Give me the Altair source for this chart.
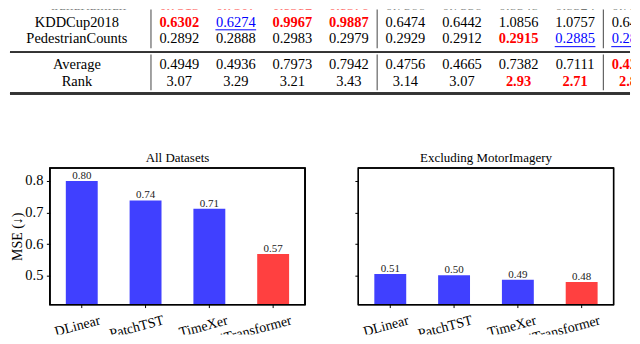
import altair as alt
import pandas as pd

FONT = "Liberation Serif"

# ---------------- table data (cropped page region) ----------------
row_names = ["AustraliaRainfall", "KDDCup2018", "PedestrianCounts", "Average", "Rank"]
australia = [0.7513, 0.7507, 0.8382, 0.8376, 0.7566, 0.7556, 0.8548, 0.8524, 0.7553]
kdd = [0.6302, 0.6274, 0.9967, 0.9887, 0.6474, 0.6442, 1.0856, 1.0757, 0.6448]
pedestrian = [0.2892, 0.2888, 0.2983, 0.2979, 0.2929, 0.2912, 0.2915, 0.2885, 0.2883]
average = [0.4949, 0.4936, 0.7973, 0.7942, 0.4756, 0.4665, 0.7382, 0.7111, 0.4247]
rank = [3.07, 3.29, 3.21, 3.43, 3.14, 3.07, 2.93, 2.71, 2.86]
# highlight per cell: "best" (red bold), "second" (blue underlined), "" plain
australia_hl = ["best", "best", "best", "best", "", "", "", "", ""]
kdd_hl = ["best", "second", "best", "best", "", "", "", "", ""]
pedestrian_hl = ["", "", "", "", "", "", "best", "second", "second"]
average_hl = ["", "", "", "", "", "", "", "", "best"]
rank_hl = ["", "", "", "", "", "", "best", "best", "best"]

# ---------------- bar chart data ----------------
models = ["DLinear", "PatchTST", "TimeXer", "iTransformer"]
mse_all = [0.799, 0.738, 0.712, 0.569]
mse_excl = [0.506, 0.502, 0.488, 0.481]
model_kind = ["baseline", "baseline", "baseline", "ours"]

# ---------------- table ----------------
rows_vals = [australia, kdd, pedestrian, average, rank]
rows_hl = [australia_hl, kdd_hl, pedestrian_hl, average_hl, rank_hl]
row_slot = [0, 1, 2, 3.5, 4.5]  # layout slots (gap before the summary block)
recs = []
for i, (vals, hls) in enumerate(zip(rows_vals, rows_hl)):
    fmt = "{:.2f}" if row_names[i] == "Rank" else "{:.4f}"
    for j, (v, h) in enumerate(zip(vals, hls)):
        recs.append({"row": row_names[i], "r": row_slot[i], "col": j,
                     "txt": fmt.format(v), "hl": h})
cells = pd.DataFrame(recs)
labels_df = pd.DataFrame({"row": row_names, "r": row_slot})

# the table view starts where the bar plots start (vconcat aligns origins);
# the row-label column hangs out to the left of it like an axis.
LEFT_EXT = 41
W_T, H_T = 583, 100
xs = alt.Scale(domain=[-2.288, 7.989], nice=False, zero=False)
ys = alt.Scale(domain=[0.225, 6.142], nice=False, zero=False, reverse=True)
TFS = 14.5


def cell_text(flt, **kw):
    return (alt.Chart(cells).transform_filter(flt)
            .mark_text(font=FONT, fontSize=TFS, baseline="middle", clip=True, **kw)
            .encode(x=alt.X("col:Q", scale=xs, axis=None),
                    y=alt.Y("r:Q", scale=ys, axis=None),
                    text="txt:N"))


plain = cell_text("datum.hl == ''", color="black")
best = cell_text("datum.hl == 'best'", color="#ff0000", fontWeight="bold")
second = cell_text("datum.hl == 'second'", color="#0000ff")
underline = (alt.Chart(cells).transform_filter("datum.hl == 'second'")
             .transform_calculate(xa="datum.col - 0.36", xb="datum.col + 0.36",
                                  yu="datum.r + 0.43")
             .mark_rule(color="#0000ff", strokeWidth=1, clip=True)
             .encode(x=alt.X("xa:Q", scale=xs, axis=None), x2="xb:Q",
                     y=alt.Y("yu:Q", scale=ys, axis=None)))


def label_text(flt, clip):
    return (alt.Chart(labels_df).transform_filter(flt)
            .mark_text(font=FONT, fontSize=TFS, baseline="middle", color="black",
                       clip=clip)
            .encode(x=alt.X(datum=-1.81, scale=xs, axis=None),
                    y=alt.Y("r:Q", scale=ys, axis=None), text="row:N"))


labels_cut = label_text("datum.r < 0.5", True)     # the row cropped at the top
labels_full = label_text("datum.r >= 0.5", False)

vlines = pd.DataFrame({"xv": [-0.5, 3.5, 7.5] * 2,
                       "y1": [-1.0] * 3 + [2.89] * 3,
                       "y2": [2.53] * 3 + [5.02] * 3})
vrules = (alt.Chart(vlines).mark_rule(color="#555555", strokeWidth=1.1, clip=True)
          .encode(x=alt.X("xv:Q", scale=xs, axis=None),
                  y=alt.Y("y1:Q", scale=ys, axis=None), y2="y2:Q"))
mid_rule = (alt.Chart(labels_df).mark_rule(color="#333333", strokeWidth=1.6)
            .encode(x=alt.value(-LEFT_EXT + 1), x2=alt.value(W_T - 1),
                    y=alt.Y(datum=2.76, scale=ys, axis=None)))
bottom_rule = (alt.Chart(labels_df).mark_rule(color="#333333", strokeWidth=2.0)
               .encode(x=alt.value(-LEFT_EXT + 1), x2=alt.value(W_T - 1),
                       y=alt.Y(datum=5.21, scale=ys, axis=None)))

table = alt.layer(vrules, mid_rule, bottom_rule, underline, plain, best, second,
                  labels_cut, labels_full).properties(
    width=W_T, height=H_T, view=alt.ViewBackground(stroke="transparent"))

# ---------------- bar panels ----------------
# plot frame spans Y_LO..Y_HI (137 px); the view extends below it to hold the
# rotated category labels, which are clipped at the view edge like the crop.
Y_LO, Y_HI = 0.41, 0.84
PANEL_W, FRAME_H, VIEW_H = 256, 137, 167
UPP = (Y_HI - Y_LO) / FRAME_H            # data units per pixel
Y_BOTTOM = Y_HI - VIEW_H * UPP
TICK_END = Y_LO - 3.5 * UPP
LABEL_Y = Y_LO - (3.5 + 5.5 + 4.4) * UPP
yscale = alt.Scale(domain=[Y_BOTTOM, Y_HI], nice=False, zero=False)
xscale = alt.Scale(domain=models, paddingInner=0.5, paddingOuter=0.25)


def bar_panel(values, title, first):
    df = pd.DataFrame({"model": models, "mse": values, "kind": model_kind})
    yaxis = alt.Axis(values=[0.5, 0.6, 0.7, 0.8], format=".1f", grid=False,
                     labels=first, title="MSE (↓)" if first else None,
                     labelFont=FONT, labelFontSize=14.5, labelColor="black",
                     labelPadding=3.5, titleFont=FONT, titleFontSize=14,
                     titleFontWeight="normal", titleColor="black", titlePadding=0.5,
                     titleY=68.5,
                     tickSize=3.5, tickColor="black", tickWidth=1, domain=False)
    xenc = alt.X("model:N", sort=models, scale=xscale, axis=None)
    base = alt.Chart(df)
    bars = base.mark_bar(clip=True).encode(
        x=xenc,
        y=alt.Y("mse:Q", scale=yscale, axis=yaxis),
        y2=alt.Y2(datum=Y_LO),
        color=alt.Color("kind:N", scale=alt.Scale(domain=["baseline", "ours"],
                                                  range=["#4040ff", "#ff4040"]),
                        legend=None))
    vals = base.mark_text(baseline="bottom", font=FONT, fontSize=11,
                          color="#222222").encode(
        x=xenc, y=alt.Y("mse:Q"), text=alt.Text("mse:Q", format=".2f"))
    frame = base.mark_rect(filled=False, stroke="black", strokeWidth=1.2).encode(
        x=alt.value(0), x2=alt.value(PANEL_W),
        y=alt.Y(datum=Y_HI), y2=alt.Y2(datum=Y_LO))
    ticks = base.mark_rule(color="black", strokeWidth=1).encode(
        x=xenc, y=alt.Y(datum=Y_LO), y2=alt.Y2(datum=TICK_END))
    cats = base.mark_text(angle=345, align="right", baseline="top", dx=17,
                          font=FONT, fontSize=14, color="black", clip=True).encode(
        x=xenc, y=alt.Y(datum=LABEL_Y), text="model:N")
    return alt.layer(bars, vals, frame, ticks, cats).properties(
        width=PANEL_W, height=VIEW_H,
        view=alt.ViewBackground(stroke="transparent"),
        title=alt.TitleParams(title, font=FONT, fontSize=13, fontWeight="normal",
                              color="black", offset=2))


left = bar_panel(mse_all, "All Datasets", True)
right = bar_panel(mse_excl, "Excluding MotorImagery", False)
bars_row = alt.hconcat(left, right, spacing=46.5)

chart = alt.vconcat(table, bars_row, spacing=41).properties(
    padding=0, background="white"
)

chart.save("out.html", embed_options={"renderer": "svg", "actions": False})
